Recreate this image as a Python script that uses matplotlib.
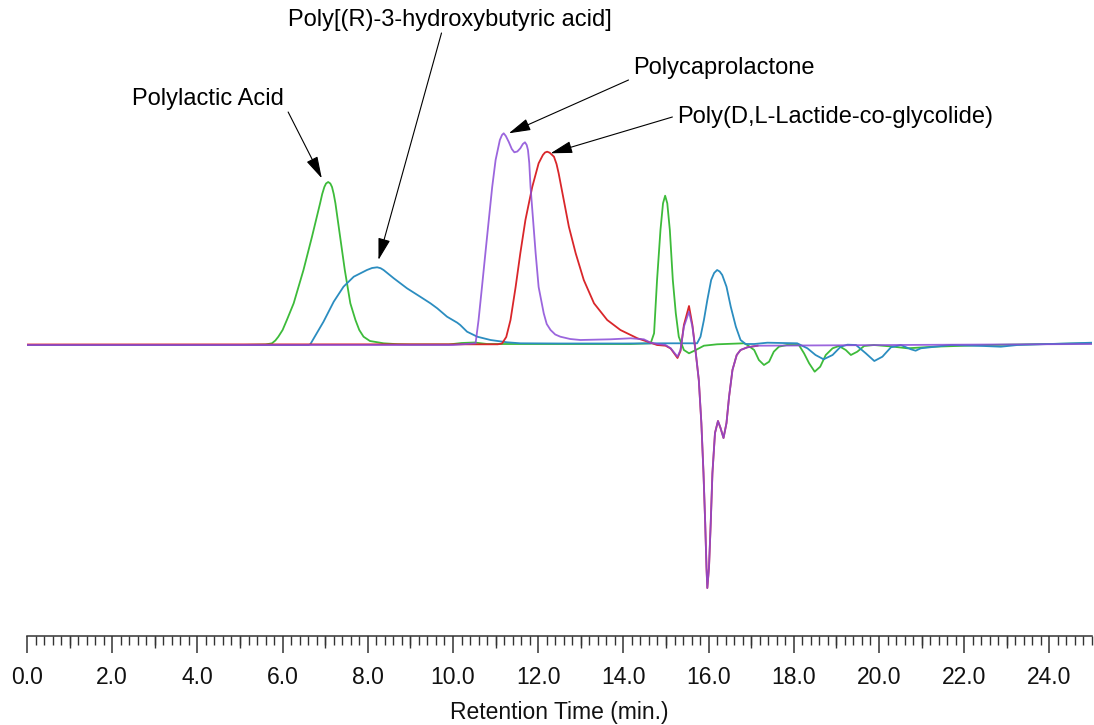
import matplotlib
matplotlib.use("Agg")
import matplotlib.pyplot as plt
import numpy as np
from matplotlib.ticker import MultipleLocator, FormatStrFormatter

plt.rcParams['font.family'] = ['Liberation Sans', 'DejaVu Sans']

# ---------------- data ----------------
# Polylactic Acid (green)
pla_t = [0, 5.0, 5.6, 5.75, 5.83, 5.90, 6.0, 6.10, 6.26, 6.49, 6.69, 6.88, 6.93, 6.98, 7.02,
         7.07, 7.12, 7.16, 7.20, 7.24, 7.35, 7.46, 7.59, 7.71, 7.80, 7.90, 8.05, 8.37, 8.7,
         9.0, 9.9, 10.2, 10.5, 10.8, 12.0, 14.17,
         14.64, 14.72, 14.79, 14.87, 14.93, 14.98, 15.03, 15.09, 15.16, 15.23, 15.30, 15.42,
         15.54, 15.70, 15.89, 16.2, 16.83, 16.91, 17.07, 17.18, 17.30, 17.42, 17.53, 17.65,
         17.84, 18.12, 18.24, 18.36, 18.49, 18.62, 18.75, 18.91, 19.06, 19.22, 19.34, 19.49,
         19.65, 19.88, 20.3, 20.67, 21.29, 22.55, 25.0]
pla_h = [0, 0, 0.5, 1.7, 4.5, 8.3, 15, 25, 41.7, 75, 108.3, 141.7, 151, 158, 161.5,
         163, 161.5, 158, 151, 141.7, 108.3, 75, 41.7, 25, 15, 8.3, 4, 1.7, 0.8,
         0.5, 0.5, 2, 2.5, 1, 1, 1,
         1.7, 11.7, 65, 115, 141.7, 149.3, 141.7, 115, 65, 31.7, 8.3, -5,
         -8.3, -5, -0.7, 0.7, 1.7, 0, -5, -15, -20, -16.7, -6.7, -1.7,
         0, 0, -8.3, -18.3, -26.7, -21.7, -10, -3.3, -1, -5, -10, -6.7,
         -1, 0, -1.5, -3.3, -1.7, 0, 1.7]

# Poly[(R)-3-hydroxybutyric acid] (blue)
phb_t = [0, 6.0, 6.61, 6.65, 6.96, 7.20, 7.43, 7.67, 7.98, 8.10, 8.22, 8.30, 8.37, 8.61,
         8.92, 9.23, 9.47, 9.63, 9.86, 10.10, 10.17, 10.33, 10.57, 10.88, 11.27, 11.58,
         12.5, 14.0, 15.0, 15.73, 15.81, 15.89, 15.97, 16.06, 16.13, 16.20, 16.26, 16.32,
         16.42, 16.52, 16.64, 16.75, 16.87, 17.07, 17.38, 18.08, 18.32, 18.51, 18.70, 18.91,
         19.10, 19.26, 19.46, 19.69, 19.89, 20.08, 20.28, 20.51, 20.75, 20.86, 20.98, 21.69,
         22.46, 22.86, 23.25, 25.0]
phb_h = [0, 0, 0, 0.7, 23.3, 43.3, 58.3, 68.3, 75, 77, 77.7, 76.8, 75, 66.7,
         56.7, 48.3, 41.7, 36.7, 28.3, 22.3, 20, 13.3, 8.3, 5, 2.7, 1.7,
         1.5, 1.5, 1.7, 1.7, 8.3, 25, 45, 65, 72, 75, 73.5, 70,
         58.3, 38.3, 18.3, 5, 1, 1, 2.3, 1.7, -3.3, -10, -14.3, -10,
         -1.7, 0.3, 0, -8.3, -16, -11.7, -2.3, 0, -4.3, -5.7, -3.3, 0,
         -1, -1.7, 0, 2.3]

# Polycaprolactone (purple)
pcl_t = [0, 10.0, 10.53, 10.60, 10.68, 10.76, 10.84, 10.92, 11.00, 11.10, 11.15, 11.19,
         11.24, 11.31, 11.38, 11.44, 11.51, 11.58, 11.64, 11.69, 11.73, 11.76, 11.79, 11.82,
         11.88, 11.94, 12.01, 12.13, 12.20, 12.29, 12.40, 12.52, 12.75, 12.99,
         13.70, 14.17, 14.48, 14.64, 14.79, 14.99, 15.11, 15.27, 15.34, 15.42, 15.54, 15.62,
         15.70, 15.77, 15.83, 15.88, 15.92, 15.95, 15.97, 16.01, 16.05, 16.09, 16.15, 16.22,
         16.28, 16.35, 16.42, 16.48, 16.56, 16.66, 16.75, 16.91, 17.15, 25.0]
pcl_h = [0, 0, 1.7, 25, 58, 91.7, 125, 158, 185, 205, 210, 211.7,
         209, 203, 196, 192.7, 193.5, 196.7, 201, 202.7, 200, 195, 182, 158,
         125, 91.7, 58, 31.7, 21, 15, 10.5, 8.3, 6, 5,
         5.7, 6.7, 5.7, 2.3, 1, 0, -3.3, -11.7, -5, 18.3, 33.3, 18.3,
         -8.3, -35, -78, -128, -178, -222, -243, -222, -178, -128, -88, -76,
         -83, -93, -78, -52, -25, -10, -5, -2.3, -0.7, 1]

# Poly(D,L-Lactide-co-glycolide) (red)
plga_t = [0, 11.05, 11.15, 11.25, 11.35, 11.47, 11.58, 11.70, 11.86, 12.01, 12.11, 12.16,
          12.21, 12.27, 12.37, 12.43, 12.48, 12.60, 12.72, 12.88, 13.07, 13.31, 13.62, 13.93,
          14.33, 14.64, 14.79, 14.99,
          15.11, 15.27, 15.34, 15.42, 15.54, 15.62, 15.70, 15.77, 15.83, 15.88, 15.92, 15.95,
          15.97, 16.01, 16.05, 16.09, 16.15, 16.22, 16.28, 16.35, 16.42, 16.48, 16.56, 16.66,
          16.75, 16.91, 17.15]
plga_h = [0.5, 0.7, 1.5, 8, 25, 58, 91.7, 125, 158, 181.7, 190, 192.5,
          193.3, 192.3, 188.3, 181, 171.7, 145, 118.3, 91.7, 65, 41.7, 25, 15,
          6.7, 2.3, 0, -0.7,
          -3.5, -13, -6, 20, 39, 20, -8.3, -35, -78, -128, -178, -222,
          -243, -222, -178, -128, -88, -76, -83, -93, -78, -52, -25, -10,
          -5, -2.3, -0.7]

labels = ['Polylactic Acid', 'Poly[(R)-3-hydroxybutyric acid]',
          'Polycaprolactone', 'Poly(D,L-Lactide-co-glycolide)']

# ---------------- figure ----------------
W, H = 1094, 725
fig = plt.figure(figsize=(W / 100, H / 100), dpi=100)
ax = fig.add_axes([27 / W, 89 / H, 1065 / W, (H - 5 - 89) / H])

lw = 1.3
ax.plot(pla_t, pla_h, color='#3dbb3a', lw=lw, zorder=2, solid_joinstyle='round')
ax.plot(phb_t, phb_h, color='#2b8dc0', lw=lw, zorder=3, solid_joinstyle='round')
ax.plot(plga_t, plga_h, color='#d9262a', lw=lw, zorder=4, solid_joinstyle='round')
ax.plot(pcl_t, pcl_h, color='#8a4bd8', lw=lw, alpha=0.85, zorder=5, solid_joinstyle='round')

ax.set_xlim(0, 25)
ax.set_ylim(-291, 340)

for s in ['top', 'right', 'left']:
    ax.spines[s].set_visible(False)
ax.spines['bottom'].set_linewidth(1.1)
ax.spines['bottom'].set_color('#333333')
ax.set_yticks([])

ax.xaxis.set_major_locator(MultipleLocator(2.0))
ax.xaxis.set_minor_locator(MultipleLocator(0.2))
ax.xaxis.set_major_formatter(FormatStrFormatter('%.1f'))
ax.tick_params(axis='x', which='major', direction='out', length=12.5, width=1.1,
               color='#333333', labelsize=16.5, pad=9, labelcolor='#111111')
ax.tick_params(axis='x', which='minor', direction='out', length=6.5, width=1.0,
               color='#333333')

sec = ax.secondary_xaxis('bottom')
sec.set_xticks(np.arange(1, 25, 2))
sec.tick_params(axis='x', direction='out', length=8.8, width=1.0, color='#333333',
                labelbottom=False)
sec.spines['bottom'].set_visible(False)

ax.set_xlabel('Retention Time (min.)', fontsize=16.5, labelpad=9, color='#111111')

# ---------------- annotations ----------------
fs = 17
ax.text(4.25, 246, labels[0], ha='center', va='center', fontsize=fs)
ax.text(9.92, 325, labels[1], ha='center', va='center', fontsize=fs)
ax.text(14.22, 277, labels[2], ha='left', va='center', fontsize=fs)
ax.text(15.25, 228, labels[3], ha='left', va='center', fontsize=fs)

arrow_kw = dict(arrowstyle='-|>,head_length=0.9,head_width=0.25', color='black',
                lw=0.8, shrinkA=0, shrinkB=0, mutation_scale=15)
ax.annotate('', xy=(6.92, 166.7), xytext=(6.13, 233), arrowprops=arrow_kw)
ax.annotate('', xy=(8.25, 85), xytext=(9.73, 312), arrowprops=arrow_kw)
ax.annotate('', xy=(11.31, 211.7), xytext=(14.12, 265), arrowprops=arrow_kw)
ax.annotate('', xy=(12.29, 191.7), xytext=(15.15, 228), arrowprops=arrow_kw)

fig.savefig('out.png', dpi=100)
